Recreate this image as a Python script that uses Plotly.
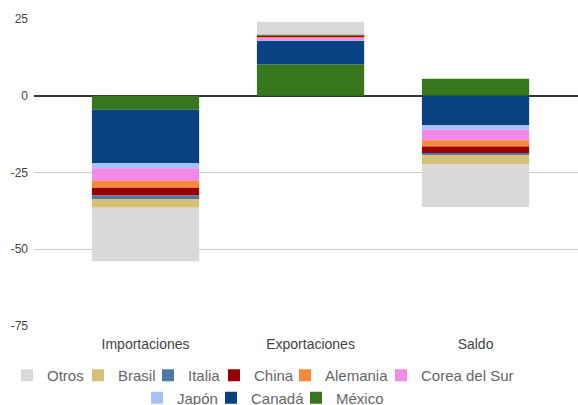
import plotly.graph_objects as go

# Flujos por socio comercial (valores en las unidades del eje)
categorias = ["Importaciones", "Exportaciones", "Saldo"]

# Orden de apilado: el primero queda junto al cero
socios = ["México", "Canadá", "Japón", "Corea del Sur", "Alemania",
          "China", "Italia", "Brasil", "Otros"]

mexico = [-4.6, 10.3, 5.5]
canada = [-17.3, 7.7, -9.5]
japon = [-1.7, 0.3, -1.6]
corea = [-4.1, 0.6, -3.4]
alemania = [-2.3, 0.3, -2.0]
china = [-2.5, 0.4, -2.3]
italia = [-1.1, 0.2, -0.6]
brasil = [-2.9, 0.3, -3.0]
otros = [-17.4, 4.0, -13.8]

valores = [mexico, canada, japon, corea, alemania, china, italia, brasil, otros]

colores = ["#38761d", "#0a4180", "#a4c2f4", "#f389e8", "#f6893a",
           "#990000", "#4d79a8", "#d6bf76", "#d9d9d9"]

y_ticks = [25, 0, -25, -50, -75]

FONT = "Arial, 'Liberation Sans', sans-serif"

# Posición de cada entrada de la leyenda (inicio del texto en px, fila)
leyenda_pos = {
    "Otros": (45, 1), "Brasil": (116, 1), "Italia": (186, 1),
    "China": (252, 1), "Alemania": (323, 1), "Corea del Sur": (419, 1),
    "Japón": (175, 2), "Canadá": (249, 2), "México": (334, 2),
}

W, H = 578, 405
fila_y = {1: 375.5, 2: 398}

fig = go.Figure()
layout_legends = {}
for i, (nombre, vals, color) in enumerate(zip(socios, valores, colores)):
    lid = "legend" if i == 0 else f"legend{i + 1}"
    fig.add_trace(go.Bar(
        x=categorias, y=vals, name=nombre, width=0.65,
        marker=dict(color=color, line=dict(width=0)),
        legend=lid, showlegend=True,
    ))
    tx, fila = leyenda_pos[nombre]
    layout_legends[lid] = dict(
        orientation="h", xref="container", yref="container",
        x=(tx - 38) / W, xanchor="left",
        y=1 - fila_y[fila] / H, yanchor="middle",
        bgcolor="rgba(0,0,0,0)",
        font=dict(family=FONT, size=15, color="#666666"),
    )

fig.update_layout(
    width=W, height=H,
    barmode="relative",
    showlegend=True,
    plot_bgcolor="white", paper_bgcolor="white",
    margin=dict(l=34, r=0, t=19, b=79, autoexpand=False),
    font=dict(family=FONT),
    **layout_legends,
)

fig.update_xaxes(
    range=[-0.676, 2.621], showgrid=False, showline=False, zeroline=False,
    ticks="", ticklabelstandoff=8,
    tickfont=dict(family=FONT, size=14, color="#444444"),
)
fig.update_yaxes(
    range=[-75, 25], tickvals=y_ticks, ticktext=[str(v) for v in y_ticks],
    showgrid=True, gridcolor="#cccccc", gridwidth=1,
    zeroline=True, zerolinecolor="#333333", zerolinewidth=1.5,
    showline=False, ticks="", ticklabelstandoff=5,
    tickfont=dict(family=FONT, size=12, color="#444444"),
)

fig.write_html("out.html")
